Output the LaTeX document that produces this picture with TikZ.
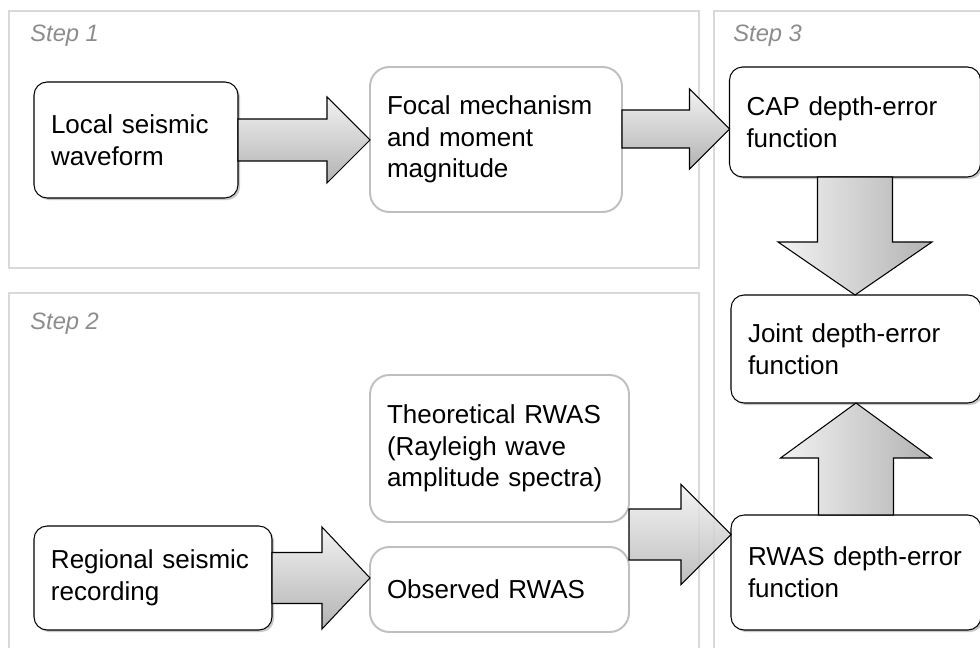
\documentclass[tikz,border=0pt]{standalone}
\usepackage{fontspec}
\setmainfont{Liberation Sans}
\usetikzlibrary{calc,shadows}

\tikzset{
  panel/.style={draw=black!15,line width=1.1pt},
  steplabel/.style={anchor=base west,inner sep=0,text=black!45,font=\itshape\fontsize{13.5}{16}\selectfont},
  darkbox/.style={draw=black,line width=.6pt,rounded corners=7.5pt,fill=white,
    drop shadow={shadow xshift=1.2pt,shadow yshift=-1.2pt,opacity=.3,fill=black!70},
    align=left,inner xsep=3.4mm,inner ysep=0pt,outer sep=0pt,font=\fontsize{14.8}{18}\selectfont},
  lightbox/.style={draw=black!25,line width=1.1pt,rounded corners=11pt,fill=white,
    align=left,inner xsep=3.4mm,inner ysep=0pt,outer sep=0pt,font=\fontsize{14.8}{18}\selectfont},
  blockarrow/.style={draw=black,line width=.6pt,line join=miter},
  hshade/.style={top color=black!5,bottom color=black!30},
  vshade/.style={left color=black!5,right color=black!30}
}

% block arrows: #1 tail, #2 tip, #3 half shaft, #4 half head, #5 head length (signed), #6 extra style
\newcommand\harrowblock[6]{%
  \draw[blockarrow,#6] ([shift={(0,-#3)}]#1) -- ([shift={(-#5,-#3)}]#2) -- ([shift={(-#5,-#4)}]#2) -- (#2)
    -- ([shift={(-#5,#4)}]#2) -- ([shift={(-#5,#3)}]#2) -- ([shift={(0,#3)}]#1) -- cycle;}
\newcommand\varrowblock[6]{%
  \draw[blockarrow,#6] ([shift={(-#3,0)}]#1) -- ([shift={(-#3,#5)}]#2) -- ([shift={(-#4,#5)}]#2) -- (#2)
    -- ([shift={(#4,#5)}]#2) -- ([shift={(#3,#5)}]#2) -- ([shift={(#3,0)}]#1) -- cycle;}

\begin{document}
\begin{tikzpicture}[x=.2mm,y=-.2mm]
\useasboundingbox (0,0) rectangle (980,648);
\clip (0,0) rectangle (980,648);
% the three steps
\draw[panel] (9,11) rectangle (699,268);
\draw[panel] (9,293) rectangle (699,670);
\draw[panel] (714,11) rectangle (1000,670);
\node[steplabel] (s1) at (30,42) {Step 1};
\node[steplabel] (s2) at (30,330) {Step 2};
\node[steplabel] (s3) at (733,42) {Step 3};
% boxes
\node[darkbox,text width=34mm,minimum height=23.2mm] (local) at (136,140) {Local seismic\\waveform};
\node[lightbox,text width=43.6mm,minimum height=29mm] (focal) at (496,139.5) {Focal mechanism\\and moment\\magnitude};
\node[darkbox,text width=43.4mm,minimum height=22mm] (cap) at (855,122) {CAP depth-error\\function};
\node[darkbox,text width=43.2mm,minimum height=21.6mm] (joint) at (856,349) {Joint depth-error\\function};
\node[darkbox,text width=43.2mm,minimum height=23mm] (rwas) at (856,572.5) {RWAS depth-error\\function};
\node[lightbox,text width=45mm,minimum height=29.4mm] (theo) at (499.5,448.5) {Theoretical RWAS\\(Rayleigh wave\\amplitude spectra)};
\node[lightbox,text width=45mm,minimum height=17mm] (obs) at (499.5,589.5) {Observed RWAS};
\node[darkbox,text width=40.8mm,minimum height=20.8mm] (regional) at (153,578) {Regional seismic\\recording};
% arrow ends
\coordinate (a1) at (local.east);
\coordinate (b1) at (focal.west |- a1);
\path (focal.east) ++(0,-10.5) coordinate (a2);
\coordinate (b2) at (cap.west |- a2);
\coordinate (a3) at ($(theo.south east)!.5!(obs.north east)$);
\coordinate (b3) at (rwas.west |- a3);
\coordinate (a4) at (regional.east);
\coordinate (b4) at (obs.west |- a4);
\coordinate (b5) at (cap.south |- joint.north);
\coordinate (b6) at (rwas.north |- joint.south);
% arrows
\harrowblock{a1}{b1}{21}{43}{43}{hshade}
\harrowblock{a2}{b2}{19}{40}{40}{hshade}
\harrowblock{a3}{b3}{25.5}{50}{50}{hshade,fill opacity=.85}
\harrowblock{a4}{b4}{25.5}{51}{48}{hshade}
\varrowblock{cap.south}{b5}{37.5}{77}{-53}{vshade}
\varrowblock{rwas.north}{b6}{37.5}{75.5}{55}{vshade}
\end{tikzpicture}
\end{document}
